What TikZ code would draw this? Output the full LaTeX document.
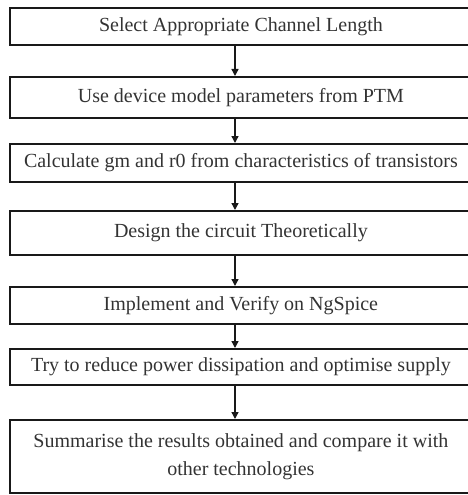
\documentclass[tikz,border=0pt]{standalone}
\usepackage{fontspec}
\setmainfont{Liberation Serif}
\usetikzlibrary{arrows.meta}
\begin{document}
\begin{tikzpicture}[x=1pt,y=-1pt,
  stepbox/.style={draw=black!90, line width=1.8pt, anchor=north west, minimum width=462pt,
    inner sep=0pt, font=\fontsize{20}{28}\selectfont, text=black!80, align=center},
  flow/.style={line width=1.4pt, black!90, -{Triangle[length=7pt,width=7pt]}}]
\useasboundingbox (0,0) rectangle (467,495);
\node[stepbox, minimum height=37pt] (b1) at (9,7) {Select Appropriate Channel Length};
\node[stepbox, minimum height=41pt] (b2) at (9,76) {Use device model parameters from PTM};
\node[stepbox, minimum height=38pt] (b3) at (9,143) {Calculate gm and r0 from characteristics of transistors};
\node[stepbox, minimum height=44pt] (b4) at (9,210) {Design the circuit Theoretically};
\node[stepbox, minimum height=37pt] (b5) at (9,286) {Implement and Verify on NgSpice};
\node[stepbox, minimum height=36pt] (b6) at (9,348) {Try to reduce power dissipation and optimise supply};
\node[stepbox, minimum height=73pt] (b7) at (9,419) {Summarise the results obtained and compare it with\\other technologies};
\coordinate (ax) at (235,0);
\foreach \a/\b in {b1/b2,b2/b3,b3/b4,b4/b5,b5/b6,b6/b7}
  \draw[flow] (\a.south -| ax) -- (\b.north -| ax);
\end{tikzpicture}
\end{document}
